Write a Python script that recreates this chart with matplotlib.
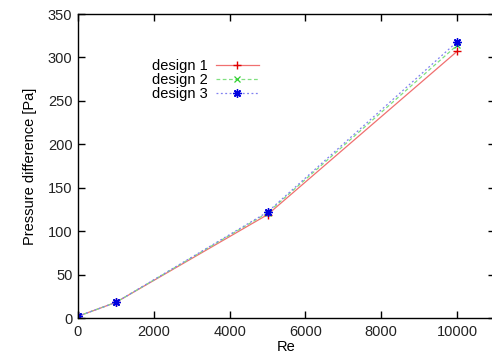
import matplotlib.pyplot as plt

re = [0, 1000, 5000, 10000]
design_1 = [2, 18, 119, 307]
design_2 = [2, 18, 121, 314]
design_3 = [2, 18, 122, 318]

plt.rcParams['font.family'] = ['Liberation Sans', 'DejaVu Sans']
plt.rcParams['font.size'] = 10.5

fig = plt.figure(figsize=(4.92, 3.62), dpi=100)
ax = fig.add_axes([78 / 492, 44 / 362, (495 - 78) / 492, (318 - 14) / 362])

ax.plot(re, design_1, color='#f07070', lw=0.9, ls='-',
        marker='+', ms=6, mec='#e00000', mew=1.0, label='design 1')
ax.plot(re, design_2, color='#80e080', lw=0.9, ls=(0, (3, 2)),
        marker='x', ms=4.5, mec='#30d030', mew=0.9, label='design 2')
ax.plot(re, design_3, color='#8080f0', lw=0.9, ls=(0, (1.5, 2)),
        marker=(8, 2, 0), ms=6, mec='#0000e0', mew=1.0, label='design 3')

ax.set_xlim(0, 11000)
ax.set_ylim(0, 350)
ax.set_xticks([0, 2000, 4000, 6000, 8000, 10000])
ax.set_yticks(range(0, 351, 50))
ax.tick_params(direction='in', length=5, width=1, top=True, right=True,
               colors='black', labelcolor='#222222')
ax.tick_params(axis='x', pad=5)
ax.tick_params(axis='y', pad=4)
for s in ax.spines.values():
    s.set_linewidth(1)

ax.set_xlabel('Re', labelpad=1)
ax.set_ylabel('Pressure difference [Pa]', labelpad=8)

leg = ax.legend(loc='upper left', bbox_to_anchor=(152 / 492, 1 - 59 / 362),
                bbox_transform=fig.transFigure, frameon=False, markerfirst=False,
                handlelength=2.95, handletextpad=0.55, labelspacing=0.0,
                borderpad=0, borderaxespad=0)

fig.savefig('out.png', dpi=100)
